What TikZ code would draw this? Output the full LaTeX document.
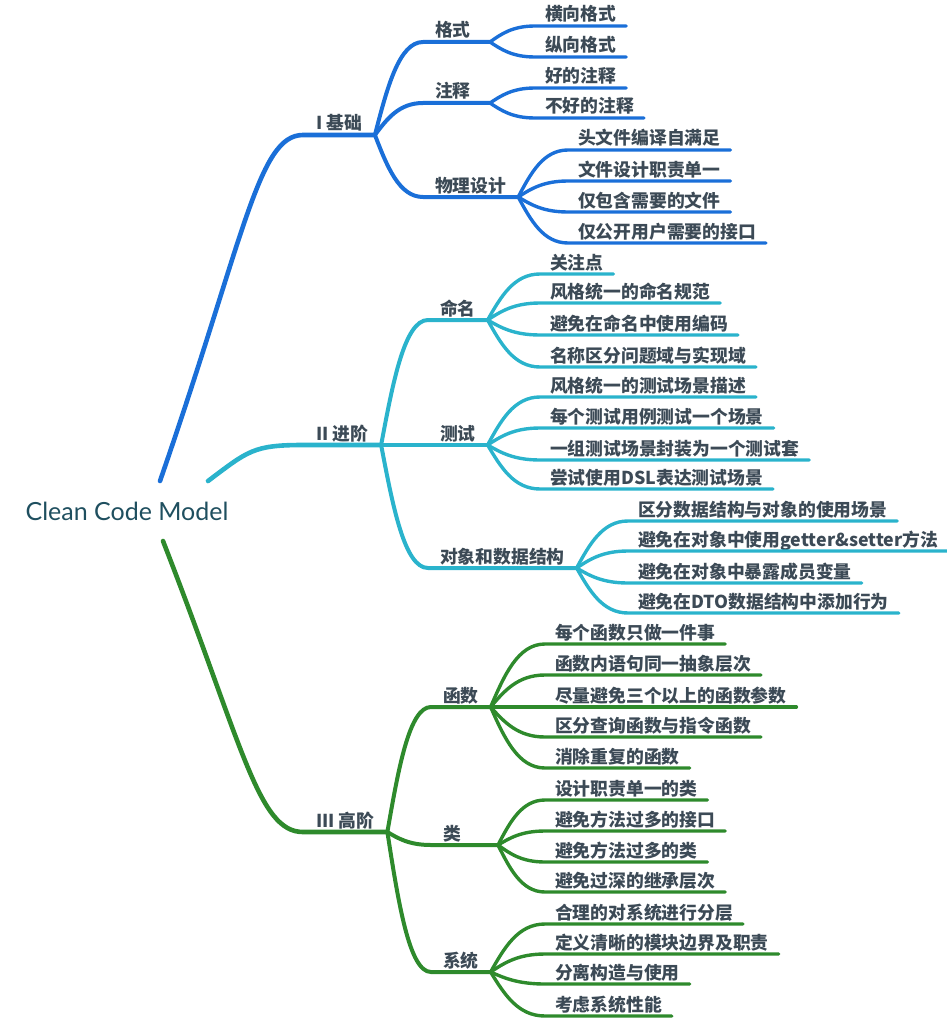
\documentclass[tikz,border=0pt]{standalone}
\usepackage{fontspec}
\newfontfamily\cjkfont{Noto Sans CJK SC}
\newfontfamily\titlefont{Lato}
\usetikzlibrary{calc}

\definecolor{basicblue}{HTML}{1A6FD8}
\definecolor{advcyan}{HTML}{2AB3CC}
\definecolor{highgreen}{HTML}{2E8A2C}
\definecolor{labelgray}{HTML}{3C4A56}
\definecolor{titleteal}{HTML}{1F4F5F}

\tikzset{
  topic/.style={anchor=south west, inner ysep=0pt, outer sep=0pt,
    text height=13pt, text depth=5pt, text=labelgray,
    font=\cjkfont\bfseries\fontsize{17.8}{17.8}\selectfont},
  main/.style={topic, inner xsep=13pt},
  sub/.style={topic, inner xsep=12pt},
  short/.style={text width=43pt},
  leaf/.style={topic, inner xsep=10pt},
  trunk/.style={line width=4.6pt, line cap=round},
  twig/.style={line width=4pt, line cap=round},
  leafline/.style={line width=3.4pt, line cap=round},
}

% curve from the end of one underline to the start of the next
\newcommand\branchto[2]{let \p1=(#1.south east), \p2=(#2.south west) in
  (\p1) .. controls ({\x1+0.25*(\x2-\x1)},{\y1+0.5*(\y2-\y1)})
  and ({\x1+0.5*(\x2-\x1)},\y2) .. (\p2)}

\begin{document}
\begin{tikzpicture}[x=1pt, y=-1pt]
  \useasboundingbox (0,0) rectangle (946,1022);

  % centre
  \node[font=\titlefont\fontsize{25}{25}\selectfont, text=titleteal] (root) at (127,511) {Clean Code Model};
  \coordinate (startI) at (160,481);
  \coordinate (startII) at (208,481);
  \coordinate (startIII) at (163,541);

  % main topics
  \node[main] (basic) at (303,135) {I 基础};
  \node[main] (adv) at (303,445) {II 进阶};
  \node[main] (high) at (303,832) {III 高阶};

  % second level
  \node[sub, short] (fmt) at (423,42) {格式};
  \node[sub, short] (cmt) at (423,103) {注释};
  \node[sub] (phys) at (423,197) {物理设计};
  \node[sub] (name) at (428,320) {命名};
  \node[sub] (test) at (428,445) {测试};
  \node[sub] (obj) at (428,568) {对象和数据结构};
  \node[sub] (func) at (431,707) {函数};
  \node[sub, short] (cls) at (431,845) {类};
  \node[sub] (sys) at (431,972) {系统};

  % leaves, I
  \node[leaf] (fmt1) at (535,26) {横向格式};
  \node[leaf] (fmt2) at (535,57) {纵向格式};
  \node[leaf] (cmt1) at (535,88) {好的注释};
  \node[leaf] (cmt2) at (535,118) {不好的注释};
  \node[leaf] (phys1) at (568,150) {头文件编译自满足};
  \node[leaf] (phys2) at (568,181) {文件设计职责单一};
  \node[leaf] (phys3) at (568,212) {仅包含需要的文件};
  \node[leaf] (phys4) at (568,243) {仅公开用户需要的接口};

  % leaves, II
  \node[leaf] (name1) at (540,274) {关注点};
  \node[leaf] (name2) at (540,303) {风格统一的命名规范};
  \node[leaf] (name3) at (540,335) {避免在命名中使用编码};
  \node[leaf] (name4) at (540,367) {名称区分问题域与实现域};
  \node[leaf] (test1) at (540,397) {风格统一的测试场景描述};
  \node[leaf] (test2) at (540,428) {每个测试用例测试一个场景};
  \node[leaf] (test3) at (540,460) {一组测试场景封装为一个测试套};
  \node[leaf] (test4) at (540,489) {尝试使用DSL表达测试场景};
  \node[leaf] (obj1) at (628,521) {区分数据结构与对象的使用场景};
  \node[leaf] (obj2) at (628,551) {避免在对象中使用getter\&setter方法};
  \node[leaf] (obj3) at (628,583) {避免在对象中暴露成员变量};
  \node[leaf] (obj4) at (628,613) {避免在DTO数据结构中添加行为};

  % leaves, III
  \node[leaf] (func1) at (545,644) {每个函数只做一件事};
  \node[leaf] (func2) at (545,675) {函数内语句同一抽象层次};
  \node[leaf] (func3) at (545,707) {尽量避免三个以上的函数参数};
  \node[leaf] (func4) at (545,737) {区分查询函数与指令函数};
  \node[leaf] (func5) at (545,768) {消除重复的函数};
  \node[leaf] (cls1) at (545,800) {设计职责单一的类};
  \node[leaf] (cls2) at (545,831) {避免方法过多的接口};
  \node[leaf] (cls3) at (545,862) {避免方法过多的类};
  \node[leaf] (cls4) at (545,892) {避免过深的继承层次};
  \node[leaf] (sys1) at (545,924) {合理的对系统进行分层};
  \node[leaf] (sys2) at (545,954) {定义清晰的模块边界及职责};
  \node[leaf] (sys3) at (545,984) {分离构造与使用};
  \node[leaf] (sys4) at (545,1016) {考虑系统性能};

  % blue branch
  \begin{scope}[draw=basicblue]
    \draw[trunk] (startI) .. controls +(85,-245) and +(-45,0) .. (basic.south west) -- (basic.south east);
    \foreach \b in {fmt, cmt, phys}
      \draw[twig] \branchto{basic}{\b} -- (\b.south east);
    \foreach \a/\b in {fmt/fmt1, fmt/fmt2, cmt/cmt1, cmt/cmt2, phys/phys1, phys/phys2, phys/phys3, phys/phys4}
      \draw[leafline] \branchto{\a}{\b} -- (\b.south east);
  \end{scope}

  % cyan branch
  \begin{scope}[draw=advcyan]
    \draw[trunk] (startII) .. controls +(40,-30) and +(-50,0) .. (adv.south west) -- (adv.south east);
    \foreach \b in {name, test, obj}
      \draw[twig] \branchto{adv}{\b} -- (\b.south east);
    \foreach \a/\b in {name/name1, name/name2, name/name3, name/name4, test/test1, test/test2, test/test3, test/test4, obj/obj1, obj/obj2, obj/obj3, obj/obj4}
      \draw[leafline] \branchto{\a}{\b} -- (\b.south east);
  \end{scope}

  % green branch
  \begin{scope}[draw=highgreen]
    \draw[trunk] (startIII) .. controls +(80,205) and +(-45,0) .. (high.south west) -- (high.south east);
    \foreach \b in {func, cls, sys}
      \draw[twig] \branchto{high}{\b} -- (\b.south east);
    \foreach \a/\b in {func/func1, func/func2, func/func3, func/func4, func/func5, cls/cls1, cls/cls2, cls/cls3, cls/cls4, sys/sys1, sys/sys2, sys/sys3, sys/sys4}
      \draw[leafline] \branchto{\a}{\b} -- (\b.south east);
  \end{scope}
\end{tikzpicture}
\end{document}
